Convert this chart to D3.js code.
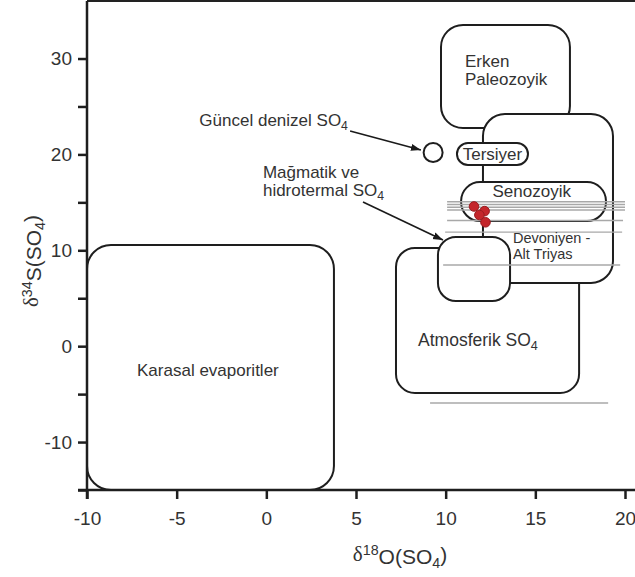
<!DOCTYPE html>
<html>
<head>
<meta charset="utf-8">
<script src="https://cdn.jsdelivr.net/npm/d3@7"></script>
<style>
  body { margin: 0; background: #fff; }
  svg { display: block; }
  text { font-family: "Liberation Sans", Arial, sans-serif; fill: #333; }
</style>
</head>
<body>
<svg id="chart" width="635" height="577"></svg>
<script>
// ---- Axis ticks ----
const xTicks = [-10, -5, 0, 5, 10, 15, 20];
const yTicks = [-15, -10, -5, 0, 5, 10, 15, 20, 25, 30];
const yLabelledTicks = [-10, 0, 10, 20, 30];

// ---- Source fields (δ18O range x0..x1, δ34S range yBottom..yTop), drawn in this order ----
const fieldNames   = ["Erken Paleozoyik", "Atmosferik SO4", "Karasal evaporitler",
                      "Devoniyen - Alt Triyas", "Mağmatik ve hidrotermal SO4", "Tersiyer", "Senozoyik"];
const fieldX0      = [9.74, 7.23, -10.0, 12.08, 9.57, 10.63, 10.86];
const fieldX1      = [16.93, 17.44, 3.77, 19.33, 13.59, 14.59, 18.94];
const fieldYTop    = [33.5, 10.24, 10.55, 24.21, 11.39, 21.19, 17.12];
const fieldYBottom = [22.75, -4.88, -15.0, 6.59, 4.71, 18.9, 13.05];

// ---- Modern seawater sulfate ----
const seawaterO18 = [9.3];
const seawaterS34 = [20.2];

// ---- Horizontal range bars (δ18O from..to at a given δ34S) ----
const rangeO18From = [10.08, 10.08, 10.08, 10.08, 10.08, 9.97, 9.86, 9.13];
const rangeO18To   = [20.0, 20.0, 20.0, 20.0, 19.89, 19.84, 19.73, 19.06];
const rangeS34     = [15.07, 14.78, 14.49, 14.2, 13.1, 11.9, 8.47, -5.93];

// ---- Measured samples ----
const sampleO18 = [11.58, 12.17, 11.88, 12.22];
const sampleS34 = [14.57, 14.08, 13.68, 12.92];

// ---- Layout ----
const width = 635, height = 577;
const x = d3.scaleLinear().domain([-10, 20]).range([87, 625]);
const y = d3.scaleLinear().domain([-15, 36]).range([490, 1]);

const cornerRadius = {
  "Erken Paleozoyik": 22, "Atmosferik SO4": 19, "Karasal evaporitler": 24,
  "Devoniyen - Alt Triyas": 22, "Mağmatik ve hidrotermal SO4": 18,
  "Tersiyer": 11, "Senozoyik": 19
};

const svg = d3.select("#chart");

svg.append("defs").append("marker")
  .attr("id", "arrow")
  .attr("viewBox", "0 0 10 10")
  .attr("refX", 10).attr("refY", 5)
  .attr("markerWidth", 10).attr("markerHeight", 10)
  .attr("markerUnits", "userSpaceOnUse")
  .attr("orient", "auto")
  .append("path").attr("d", "M0,1.5 L10,5 L0,8.5 Z").attr("fill", "#1a1a1a");

// Frame: top border (right side runs past the visible area)
svg.append("line")
  .attr("x1", x(-10)).attr("x2", width)
  .attr("y1", y(36)).attr("y2", y(36))
  .attr("stroke", "#222").attr("stroke-width", 2);

// Fields as rounded rectangles
const fields = fieldNames.map((n, i) => ({
  name: n, x0: fieldX0[i], x1: fieldX1[i], yt: fieldYTop[i], yb: fieldYBottom[i]
}));

svg.append("g").selectAll("rect").data(fields).join("rect")
  .attr("x", d => x(d.x0))
  .attr("y", d => y(d.yt))
  .attr("width", d => x(d.x1) - x(d.x0))
  .attr("height", d => y(d.yb) - y(d.yt))
  .attr("rx", d => cornerRadius[d.name])
  .attr("ry", d => cornerRadius[d.name])
  .attr("fill", "#fff")
  .attr("stroke", "#1e1e1e")
  .attr("stroke-width", 2);

// Seawater circle
svg.append("g").selectAll("circle").data(seawaterO18).join("circle")
  .attr("cx", d => x(d))
  .attr("cy", (d, i) => y(seawaterS34[i]))
  .attr("r", 9.5)
  .attr("fill", "#fff")
  .attr("stroke", "#1e1e1e")
  .attr("stroke-width", 2);

// Range bars
svg.append("g").selectAll("line").data(rangeS34).join("line")
  .attr("x1", (d, i) => x(rangeO18From[i]))
  .attr("x2", (d, i) => x(rangeO18To[i]))
  .attr("y1", d => y(d)).attr("y2", d => y(d))
  .attr("stroke", "#a8a8a8")
  .attr("stroke-width", 1.4);

// Samples
svg.append("g").selectAll("circle").data(sampleO18).join("circle")
  .attr("cx", d => x(d))
  .attr("cy", (d, i) => y(sampleS34[i]))
  .attr("r", 4.8)
  .attr("fill", "#c4262b")
  .attr("stroke", "#9a1b1f")
  .attr("stroke-width", 1);

// Axes (labels use a plain hyphen for negatives)
const xAxis = d3.axisBottom(x).tickValues(xTicks).tickSize(9).tickPadding(13)
  .tickFormat(d => String(d));
const gx = svg.append("g").attr("transform", `translate(0,${y(-15)})`).call(xAxis);
gx.select(".domain").attr("d", `M${x(-10) - 9},0H${width}`);

const yAxis = d3.axisLeft(y).tickValues(yTicks).tickSize(9).tickPadding(6)
  .tickFormat(d => yLabelledTicks.includes(d) ? String(d) : "");
const gy = svg.append("g").attr("transform", `translate(${x(-10)},0)`).call(yAxis);
gy.select(".domain").attr("d", `M0,${y(36)}V${y(-15) + 9}`);

[gx, gy].forEach(g => {
  g.selectAll(".domain").attr("stroke", "#1e1e1e").attr("stroke-width", 2.5);
  g.selectAll(".tick line").attr("stroke", "#1e1e1e").attr("stroke-width", 2.5);
  g.selectAll(".tick text")
    .attr("fill", "#333")
    .style("font-family", '"Liberation Sans", Arial, sans-serif')
    .style("font-size", "19px");
});

// Text helper: plain text with optional subscript "4"
function label(px, py, main, sub, anchor, size) {
  const t = svg.append("text")
    .attr("x", px).attr("y", py)
    .attr("text-anchor", anchor || "start")
    .style("font-size", (size || 17) + "px");
  t.append("tspan").text(main);
  if (sub) {
    t.append("tspan").attr("dy", "0.3em").style("font-size", "0.72em").text(sub);
  }
  return t;
}

label(x(4.55), y(22.96), "Güncel denizel SO", "4", "end");
label(x(-0.19), y(17.54), "Mağmatik ve");
label(x(-0.19), y(15.66), "hidrotermal SO", "4");
label(x(11.08), y(29.12), "Erken");
label(x(11.08), y(27.24), "Paleozoyik");
label(x(12.61), y(19.42), "Tersiyer", null, "middle");
label(x(14.8), y(15.56), "Senozoyik", null, "middle");
label(x(13.75), y(10.8), "Devoniyen -", null, "start", 14.5);
label(x(13.75), y(9.05), "Alt Triyas", null, "start", 14.5);
label(x(8.46), y(0.02), "Atmosferik SO", "4", "start", 17.5);
label(x(-7.21), y(-3.1), "Karasal evaporitler");

// Arrows
const arrows = [
  { from: [4.67, 22.44], to: [8.62, 20.46] },
  { from: [5.39, 15.04], to: [9.85, 11.07] }
];
svg.append("g").selectAll("line").data(arrows).join("line")
  .attr("x1", d => x(d.from[0])).attr("y1", d => y(d.from[1]))
  .attr("x2", d => x(d.to[0])).attr("y2", d => y(d.to[1]))
  .attr("stroke", "#1a1a1a").attr("stroke-width", 1.6)
  .attr("marker-end", "url(#arrow)");

// Axis titles: δ18O(SO4) and δ34S(SO4)
function axisTitle(sel, iso, el) {
  sel.append("tspan").style("font-family", '"Liberation Serif", "Times New Roman", serif').text("δ");
  sel.append("tspan").attr("dy", "-0.45em").style("font-size", "0.68em").text(iso);
  sel.append("tspan").attr("dy", "0.45em").text(el + "(SO");
  sel.append("tspan").attr("dy", "0.3em").style("font-size", "0.68em").text("4");
  sel.append("tspan").attr("dy", "-0.3em").text(")");
}

const xt = svg.append("text")
  .attr("x", 400).attr("y", 561)
  .attr("text-anchor", "middle")
  .style("font-size", "21px");
axisTitle(xt, "18", "O");

const yt = svg.append("text")
  .attr("transform", `translate(38,261) rotate(-90)`)
  .attr("text-anchor", "middle")
  .style("font-size", "21px");
axisTitle(yt, "34", "S");
</script>
</body>
</html>
